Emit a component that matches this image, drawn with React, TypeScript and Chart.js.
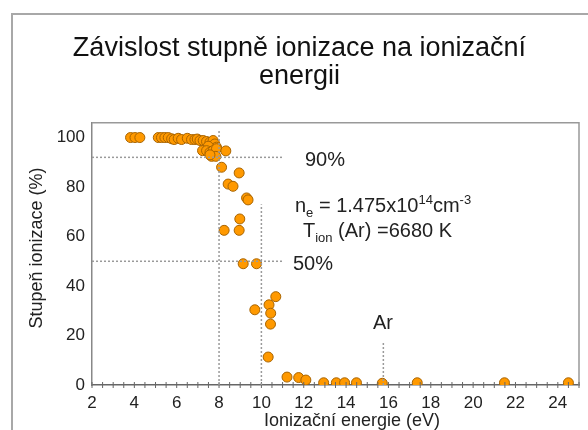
import React, { useEffect, useRef } from "react";
import { Chart, registerables } from "chart.js";

Chart.register(...registerables);

const titleLines = ["Závislost stupně ionizace na ionizační", "energii"];
const xTitle = "Ionizační energie (eV)";
const yTitle = "Stupeň ionizace (%)";

// ionization energy (eV)
const energies = [
  3.82, 4.03, 4.26, 5.13, 5.28, 5.44, 5.6, 5.76, 5.88, 6.07, 6.23, 6.5, 6.7, 6.86, 6.97,
  7.1, 7.25, 7.41, 7.57, 7.72, 7.8, 7.88, 7.49, 7.22, 7.41, 7.57, 7.72, 7.88, 7.65, 7.85,
  7.57, 8.32, 8.12, 8.95, 8.43, 8.66, 9.3, 9.37, 8.98, 8.24, 8.95, 9.14, 9.77, 10.68,
  9.69, 10.36, 10.44, 10.43, 10.32, 11.21, 11.76, 12.1, 12.94, 13.54, 13.93, 14.49,
  15.71, 17.36, 21.48, 24.5,
];
// degree of ionization (%)
const degrees = [
  100, 100, 100, 100, 100, 100, 100, 99.5, 99.2, 99.7, 99.2, 99.7, 99.2, 99.2, 99.4,
  98.8, 98.8, 98.4, 98.1, 98.8, 97.4, 96.1, 96.5, 94.7, 94.7, 94.0, 94.7, 95.5, 92.4, 92.4,
  93.0, 94.6, 88.0, 85.7, 81.2, 80.3, 75.6, 74.8, 67.1, 62.5, 62.5, 49, 49, 35.7,
  30.4, 32.4, 29.0, 24.6, 11.3, 3.2, 3.0, 2.0, 0.9, 0.9, 0.9, 0.9,
  0.7, 0.9, 0.9, 0.9,
];

const xTicks = [2, 4, 6, 8, 10, 12, 14, 16, 18, 20, 22, 24];
const yTicks = [0, 20, 40, 60, 80, 100];

// reference lines: [x1, y1, x2, y2]
const refLines = [
  [2, 92, 11, 92],
  [2, 50, 11, 50],
  [8, 0, 8, 103],
  [10, 0, 10, 73],
  [15.76, 0, 15.76, 17],
];

const FONT = "'Liberation Sans', Arial, sans-serif";

const overlay = {
  id: "overlay",
  afterDraw(chart: any) {
    const ctx = chart.ctx;
    const xs = chart.scales.x;
    const ys = chart.scales.y;
    const area = chart.chartArea;
    ctx.save();

    // outer frame
    ctx.strokeStyle = "#a8a8a8";
    ctx.lineWidth = 2;
    ctx.beginPath();
    ctx.moveTo(12, 430);
    ctx.lineTo(12, 14);
    ctx.lineTo(588, 14);
    ctx.stroke();

    // plot box top/right
    ctx.strokeStyle = "#999";
    ctx.lineWidth = 1.5;
    ctx.beginPath();
    ctx.moveTo(area.left, area.top);
    ctx.lineTo(area.right, area.top);
    ctx.lineTo(area.right, area.bottom);
    ctx.stroke();

    // minor ticks on x axis
    ctx.strokeStyle = "#666";
    ctx.lineWidth = 1;
    for (let v = 2; v <= 25.001; v += 0.5) {
      const px = xs.getPixelForValue(v);
      ctx.beginPath();
      ctx.moveTo(px, area.bottom - 3);
      ctx.lineTo(px, area.bottom + 3);
      ctx.stroke();
    }

    // reference lines
    ctx.strokeStyle = "#9a9a9a";
    ctx.lineWidth = 1.5;
    ctx.setLineDash([2, 2]);
    for (const [x1, y1, x2, y2] of refLines) {
      ctx.beginPath();
      ctx.moveTo(xs.getPixelForValue(x1), ys.getPixelForValue(y1));
      ctx.lineTo(xs.getPixelForValue(x2), ys.getPixelForValue(y2));
      ctx.stroke();
    }
    ctx.setLineDash([]);

    // annotations
    ctx.fillStyle = "#222";
    ctx.textBaseline = "alphabetic";
    ctx.textAlign = "left";
    const big = `20px ${FONT}`;
    const small = `13px ${FONT}`;
    const drawRuns = (x: number, y: number, runs: [string, number][]) => {
      let cx = x;
      for (const [t, shift] of runs) {
        ctx.font = shift === 0 ? big : small;
        ctx.fillText(t, cx, y + shift);
        cx += ctx.measureText(t).width;
      }
    };
    ctx.font = big;
    ctx.fillText("90%", 305, 166);
    ctx.fillText("50%", 293, 270);
    ctx.fillText("Ar", 373, 329);
    drawRuns(295, 212, [["n", 0], ["e", 5], [" = 1.475x10", 0], ["14", -8], ["cm", 0], ["-3", -8]]);
    drawRuns(303, 237, [["T", 0], ["ion", 5], [" (Ar) =6680 K", 0]]);

    // axis titles
    ctx.font = `18px ${FONT}`;
    ctx.textAlign = "center";
    ctx.textBaseline = "middle";
    ctx.fillText(xTitle, 352, 421);
    ctx.translate(37, 248);
    ctx.rotate(-Math.PI / 2);
    ctx.fillText(yTitle, 0, 0);
    ctx.restore();
  },
};

export default function App() {
  const ref = useRef<HTMLCanvasElement>(null);
  useEffect(() => {
    if (!ref.current) return;
    const chart = new Chart(ref.current, {
      type: "scatter",
      data: {
        datasets: [
          {
            data: energies.map((x, i) => ({ x, y: degrees[i] })),
            backgroundColor: "#FF9900",
            borderColor: "#A86400",
            borderWidth: 1,
            pointRadius: 5,
          },
        ],
      },
      options: {
        responsive: false,
        animation: false,
        layout: { padding: { left: 20, right: 9, top: 0, bottom: 0 } },
        plugins: {
          legend: { display: false },
          tooltip: { enabled: false },
          title: {
            display: true,
            text: titleLines,
            color: "#111",
            font: { family: FONT, size: 27, weight: "normal", lineHeight: 1.05 },
            padding: { top: 34, bottom: 32 },
          },
        },
        scales: {
          x: {
            type: "linear",
            min: 2,
            max: 25,
            grid: { display: false, drawTicks: false },
            border: { display: true, color: "#666", width: 1.5 },
            ticks: { color: "#222", font: { family: FONT, size: 17 }, padding: 8, maxRotation: 0 },
            afterBuildTicks: (s: any) => {
              s.ticks = xTicks.map((v) => ({ value: v }));
            },
            afterFit: (s: any) => {
              s.height = 45;
            },
          },
          y: {
            type: "linear",
            min: 0,
            max: 106,
            grid: { display: false, drawTicks: false },
            border: { display: true, color: "#888", width: 1.5 },
            ticks: { color: "#222", font: { family: FONT, size: 17 }, padding: 7 },
            afterBuildTicks: (s: any) => {
              s.ticks = yTicks.map((v) => ({ value: v }));
            },
            afterFit: (s: any) => {
              s.width = 72;
            },
          },
        },
      },
      plugins: [overlay],
    });
    return () => chart.destroy();
  }, []);
  return (
    <div style={{ position: "absolute", left: 0, top: 0, width: 588, height: 430, background: "#fff" }}>
      <canvas ref={ref} width={588} height={430} style={{ width: 588, height: 430 }} />
    </div>
  );
}
